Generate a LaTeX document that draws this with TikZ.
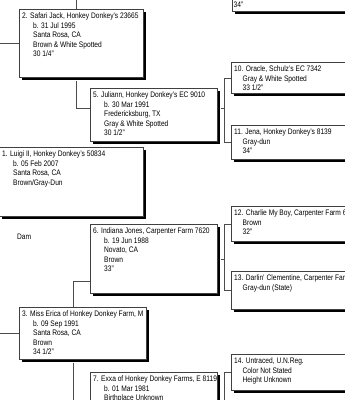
\documentclass[tikz,border=0pt]{standalone}
\usepackage{fontspec}
\setmainfont{Liberation Sans}[FakeStretch=0.83]
\usetikzlibrary{shadows}
\newcommand{\ind}{\hspace*{11pt}}
\newcommand{\indb}{\hspace*{8.5pt}}
\newcommand{\pedbox}[6]{%
  \node[pbox, minimum width=#4pt, minimum height=#5pt] (#1) at (#2,#3) {};
  \node[ptxt] (#1t) at ([xshift=3pt, yshift=-3.8pt]#1.north west) {#6};}
\begin{document}
\begin{tikzpicture}[x=1pt,y=-1pt,
  pbox/.style={draw=black!75, line width=0.5pt, fill=white, anchor=north west, inner sep=0pt,
    drop shadow={shadow xshift=3pt, shadow yshift=-3pt, fill=black, opacity=1}},
  ptxt/.style={anchor=north west, inner sep=0pt, align=left, font=\fontsize{8}{9.5}\selectfont},
  link/.style={draw=black!70, line width=0.5pt}]
\useasboundingbox (0,0) rectangle (345,400);
\clip (0,0) rectangle (345,400);
\fill[white] (0,0) rectangle (345,400);

% generation 2
\pedbox{b2}{19}{9}{124}{68}{2. Safari Jack, Honkey Donkey's 23665\\\ind b. 31 Jul 1995\\\ind Santa Rosa, CA\\\ind Brown \& White Spotted\\\ind 30 1/4"}
\pedbox{b1}{-1}{147}{144}{69}{1. Luigi II, Honkey Donkey's 50834\\\ind b. 05 Feb 2007\\\ind Santa Rosa, CA\\\ind Brown/Gray-Dun}
\pedbox{b3}{19}{307}{127}{52}{3. Miss Erica of Honkey Donkey Farm, M\\\ind b. 09 Sep 1991\\\ind Santa Rosa, CA\\\ind Brown\\\ind 34 1/2"}

% generation 3
\pedbox{b5}{90}{88}{127}{53}{5. Juliann, Honkey Donkey's EC 9010\\\ind b. 30 Mar 1991\\\ind Fredericksburg, TX\\\ind Gray \& White Spotted\\\ind 30 1/2"}
\pedbox{b6}{90}{224}{127}{69}{6. Indiana Jones, Carpenter Farm 7620\\\ind b. 19 Jun 1988\\\ind Novato, CA\\\ind Brown\\\ind 33"}
\pedbox{b7}{90}{372}{127}{70}{7. Exxa of Honkey Donkey Farms, E 8119\\\ind b. 01 Mar 1981\\\ind Birthplace Unknown}

% generation 4
\node[pbox, minimum width=130pt, minimum height=51pt] (b9) at (232,-40) {};
\node[ptxt] (b9t) at (233.5,1.3) {34"};
\pedbox{b10}{231}{62}{130}{31}{10. Oracle, Schulz's EC 7342\\\indb Gray \& White Spotted\\\indb 33 1/2"}
\pedbox{b11}{231}{125}{130}{34}{11. Jena, Honkey Donkey's 8139\\\indb Gray-dun\\\indb 34"}
\pedbox{b12}{231}{206}{130}{35}{12. Charlie My Boy, Carpenter Farm 60\\\indb Brown\\\indb 32"}
\pedbox{b13}{231}{271}{130}{38}{13. Darlin' Clementine, Carpenter Farm\\\indb Gray-dun (State)}
\pedbox{b14}{231}{354}{130}{36}{14. Untraced, U.N.Reg.\\\indb Color Not Stated\\\indb Height Unknown}

\node[ptxt, anchor=west] (dam) at (17,237) {Dam};

% connectors
\coordinate (left) at (0,0);
\coordinate (bottom) at (0,400);
\coordinate (v2) at (76,0);
\coordinate (v3) at (73,0);
\coordinate (v4) at (224,0);
\coordinate (h5) at (0,108);
\coordinate (h6) at (0,281);

\draw[link] (left |- b2.west) -- (b2.west);
\draw[link] (left |- b3.west) -- (b3.west);
\draw[link] (v2) -- (v2 |- b2.north);
\draw[link] ([yshift=-3pt]v2 |- b2.south) |- (b5.west |- h5);
\draw[link] (v3 |- b3.north) |- (b6.west |- h6);
\draw[link] ([yshift=-3pt]v3 |- b3.south) -- (v3 |- bottom);
\draw[link] ([xshift=3pt]b5.east |- h5) -- (v4 |- h5);
\draw[link] (b10.west) -- (v4 |- b10.west) -- (v4 |- b11.west) -- (b11.west);
\draw[link] ([xshift=3pt]b6.east) -- (v4 |- b6.east);
\draw[link] (b12.west) -- (v4 |- b12.west) -- (v4 |- b13.west) -- (b13.west);
\draw[link] (b14.west) -- (v4 |- b14.west) -- (v4 |- bottom);
\end{tikzpicture}
\end{document}
